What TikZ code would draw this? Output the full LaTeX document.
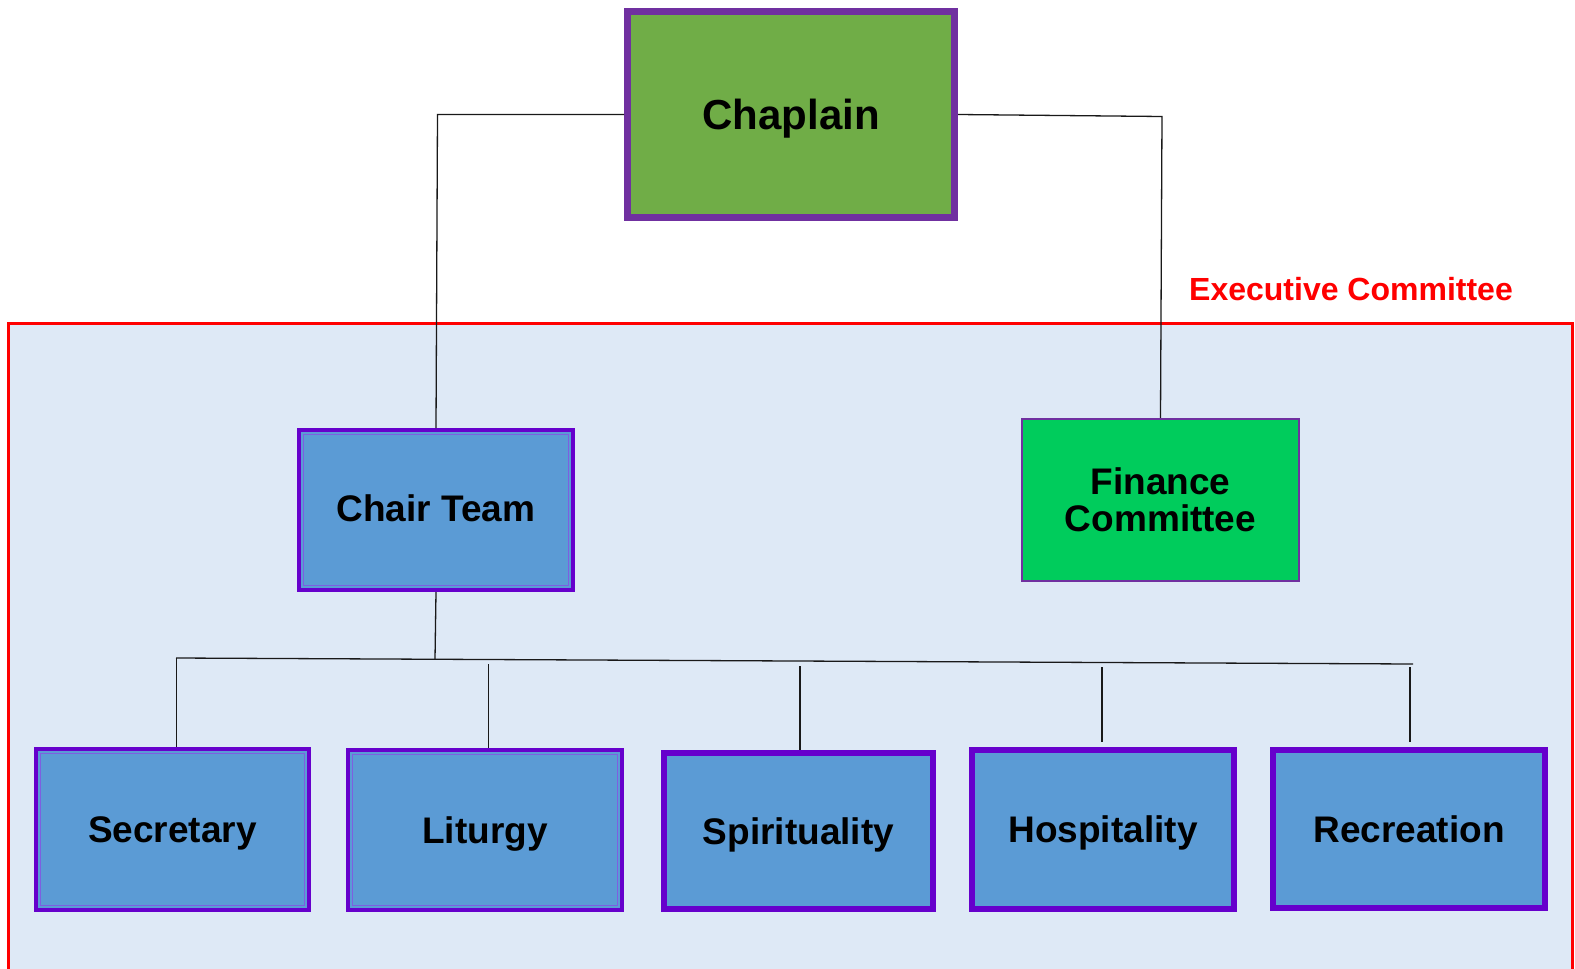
\documentclass[tikz,border=0pt]{standalone}
\usepackage{fontspec}
\setmainfont{Liberation Sans}
\definecolor{chapfill}{RGB}{112,173,71}
\definecolor{chapline}{RGB}{112,48,160}
\definecolor{boxfill}{RGB}{91,155,213}
\definecolor{boxline}{RGB}{102,0,204}
\definecolor{innerline}{RGB}{125,95,225}
\definecolor{finfill}{RGB}{0,204,92}
\definecolor{execfill}{RGB}{222,233,246}
\definecolor{execred}{RGB}{255,0,0}
\begin{document}
\begin{tikzpicture}[x=1pt,y=-1pt,
  conn/.style={draw=black!90,line width=1.3pt},
  basebox/.style={rectangle,inner sep=0pt,align=center,text=black,
    font=\fontsize{37}{37}\selectfont\bfseries},
  chapbox/.style={basebox,fill=chapfill,draw=chapline,line width=7pt,
    minimum width=327pt,minimum height=206pt,
    font=\fontsize{42}{42}\selectfont\bfseries,text height=30pt,text depth=0pt},
  dblbox/.style={basebox,fill=boxfill,draw=boxline,line width=4pt,
    text height=26.5pt,text depth=0pt,
    path picture={\draw[innerline,line width=1.4pt]
      ([shift={(4.5pt,-4.5pt)}]path picture bounding box.north west) rectangle
      ([shift={(-4.5pt,4.5pt)}]path picture bounding box.south east);}},
  thickbox/.style={basebox,fill=boxfill,draw=boxline,line width=6pt,
    text height=26.5pt,text depth=0pt},
  finbox/.style={basebox,fill=finfill,draw=chapline,line width=2.5pt},
  execlabel/.style={text=execred,inner sep=0pt,anchor=base west,
    font=\fontsize{32}{32}\selectfont\bfseries}
]
\useasboundingbox (0,0) rectangle (1575,969);
% executive committee region
\path[fill=execfill,draw=execred,line width=2.5pt] (8.5,323.5) rectangle (1572.5,985);
\node[execlabel] (execlbl) at (1189,300.5) {Executive Committee};

% nodes
\node[chapbox] (chap) at (791,114.5) {Chaplain};
\node[dblbox,minimum width=274pt,minimum height=160pt,text height=22.5pt] (chair) at (436,510) {Chair Team};
\node[finbox,minimum width=277pt,minimum height=162pt] (fin) at (1160.5,500) {Finance\\Committee};
\node[dblbox,minimum width=273pt,minimum height=161pt] (sec) at (172.5,829.5) {Secretary};
\node[dblbox,minimum width=273.5pt,minimum height=160pt] (lit) at (485,830) {Liturgy};
\node[thickbox,minimum width=269pt,minimum height=156pt] (spi) at (798.5,831) {Spirituality};
\node[thickbox,minimum width=262pt,minimum height=159pt] (hos) at (1103,829.5) {Hospitality};
\node[thickbox,minimum width=272pt,minimum height=158pt] (rec) at (1409,829) {Recreation};

% connector points
\coordinate (cl) at (437.5,114.5);
\coordinate (cr) at (1162,116.5);
\coordinate (busC) at (435,659.3);
\coordinate (busL) at (176,658);
\coordinate (busR) at (1413,664);
\coordinate (s1) at (176.5,658);
\coordinate (s2) at (488.7,664);
\coordinate (s3) at (800,666);
\coordinate (s4) at (1102,667);
\coordinate (e4) at (1102,742);
\coordinate (s5) at (1410,667);
\coordinate (e5) at (1410,742);

% connectors
\draw[conn] (chap.west) -- (cl) -- (chair.north);
\draw[conn] (chap.east) -- (cr) -- (fin.north);
\draw[conn] (chair.south) -- (busC);
\draw[conn] (busL) -- (busR);
\draw[conn] (s1) -- (s1 |- sec.north);
\draw[conn] (s2) -- (s2 |- lit.north);
\draw[conn] (s3) -- (s3 |- spi.north);
\draw[conn] (s4) -- (e4);
\draw[conn] (s5) -- (e5);
\end{tikzpicture}
\end{document}
